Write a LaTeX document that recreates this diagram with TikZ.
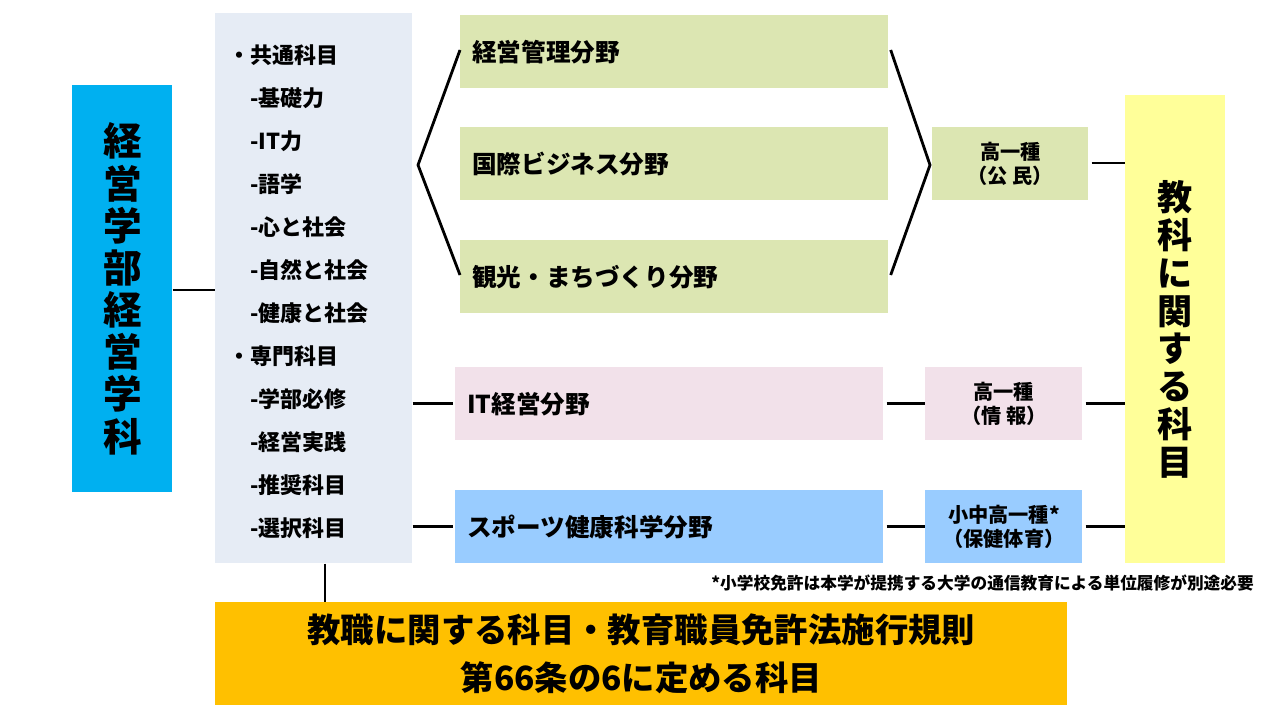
\documentclass[tikz,border=0pt]{standalone}
\usepackage{fontspec}
\setmainfont{Noto Sans CJK JP}
\usetikzlibrary{positioning,calc}
\definecolor{deptblue}{HTML}{00B0F0}
\definecolor{listgray}{HTML}{E6ECF5}
\definecolor{fieldgreen}{HTML}{DCE6B2}
\definecolor{fieldpink}{HTML}{F2E1EA}
\definecolor{fieldblue}{HTML}{99CCFF}
\definecolor{subjyellow}{HTML}{FFFF99}
\definecolor{teachorange}{HTML}{FFC000}
\tikzset{
  box/.style={anchor=north west, inner sep=0pt},
  field/.style={box, minimum height=73*0.02cm, text width=404*0.02cm, align=left,
    font=\fontsize{14}{16}\selectfont\bfseries, inner xsep=12*0.02cm},
  licence/.style={box, minimum height=73*0.02cm, align=center,
    font=\fontsize{11.5}{14}\selectfont\bfseries},
  link/.style={line width=1.6pt},
  item/.style={anchor=west, font=\fontsize{12.5}{14}\selectfont\bfseries}
}
\begin{document}
\begin{tikzpicture}[x=0.02cm, y=-0.02cm]
  \useasboundingbox (0,0) rectangle (1280,720);
  % left column
  \node[box, fill=deptblue, minimum width=100*0.02cm, minimum height=407*0.02cm,
    font=\fontsize{22}{24}\selectfont\bfseries, align=center] (dept) at (72,85)
    {経\\営\\学\\部\\経\\営\\学\\科};
  \node[box, fill=listgray, minimum width=197*0.02cm, minimum height=550*0.02cm] (list) at (215,13) {};
  \foreach \t/\x [count=\i] in {・共通科目/222, -基礎力/244, -IT力/244, -語学/244, -心と社会/244,
      -自然と社会/244, -健康と社会/244, ・専門科目/222, -学部必修/244, -経営実践/244,
      -推奨科目/244, -選択科目/244} {
    \node[item] (item\i) at (\x,{55+43*(\i-1)}) {\t};
  }
  % fields
  \node[field, fill=fieldgreen] (mgmt) at (460,15) {経営管理分野};
  \node[field, fill=fieldgreen] (intl) at (460,127) {国際ビジネス分野};
  \node[field, fill=fieldgreen] (tour) at (460,240) {観光・まちづくり分野};
  \node[field, fill=fieldpink] (itm) at (455,367) {IT経営分野};
  \node[field, fill=fieldblue] (sport) at (455,490) {スポーツ健康科学分野};
  % licences
  \node[licence, fill=fieldgreen, minimum width=156*0.02cm] (civ) at (932,127) {高一種\\（公 民）};
  \node[licence, fill=fieldpink, minimum width=157*0.02cm] (info) at (925,367) {高一種\\（情 報）};
  \node[licence, fill=fieldblue, minimum width=157*0.02cm] (pe) at (925,490) {小中高一種*\\（保健体育）};
  \node[box, fill=subjyellow, minimum width=100*0.02cm, minimum height=468*0.02cm,
    font=\fontsize{20}{21.5}\selectfont\bfseries, align=center] (subj) at (1125,95)
    {教\\科\\に\\関\\す\\る\\科\\目};
  \node[anchor=east, font=\fontsize{9.5}{11}\selectfont\bfseries] (note) at (1260,583)
    {*小学校免許は本学が提携する大学の通信教育による単位履修が別途必要};
  \node[box, fill=teachorange, minimum width=852*0.02cm, minimum height=103*0.02cm,
    font=\fontsize{19}{27}\selectfont\bfseries, align=center] (teach) at (215,602)
    {教職に関する科目・教育職員免許法施行規則\\第66条の6に定める科目};
  % connectors
  \coordinate (lt) at (418,165);
  \coordinate (rt) at (930,165);
  \draw[link] (dept.east |- 0,290) -- (list.west |- 0,290);
  \draw[link] (mgmt.west |- 0,50) -- (lt) -- (tour.west |- 0,275);
  \draw[link] (mgmt.east |- 0,50) ++(2,0) -- (rt) -- ($(tour.east |- 0,275)+(2,0)$);
  \draw[link] (civ.east |- 0,163) ++(3,0) -- (subj.west |- 0,163);
  \draw[link] (list.east |- itm.west) -- ++(40,0);
  \draw[link] (itm.east) ++(3,0) -- (info.west);
  \draw[link] (info.east) ++(3,0) -- (subj.west |- info.east);
  \draw[link] (list.east |- sport.west) -- ++(40,0);
  \draw[link] (sport.east) ++(3,0) -- (pe.west);
  \draw[link] (pe.east) ++(3,0) -- (subj.west |- pe.east);
  \draw[link] (list.south -| 325,0) -- (teach.north -| 325,0);
\end{tikzpicture}
\end{document}
